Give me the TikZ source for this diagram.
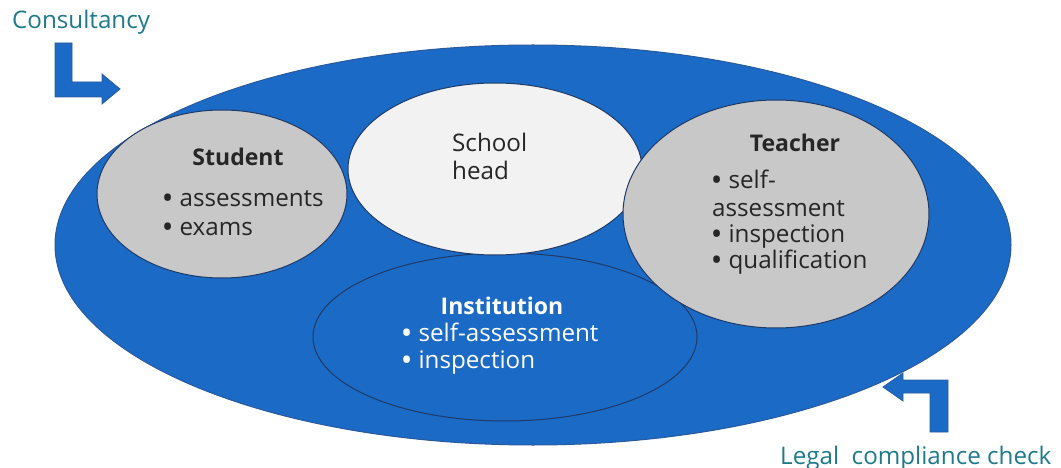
\documentclass[tikz,border=0pt]{standalone}
\usepackage{fontspec}
\setmainfont{Open Sans}
\definecolor{bigblue}{HTML}{1B6AC6}
\definecolor{edgeblue}{HTML}{2A5A9E}
\definecolor{darkedge}{HTML}{1F3A66}
\definecolor{headwhite}{HTML}{F2F2F2}
\definecolor{roundgray}{HTML}{C8C8C8}
\definecolor{txtgray}{HTML}{262626}
\definecolor{tealtxt}{HTML}{1F7A8C}
\newcommand{\bul}{{\bfseries •}\hspace{0.3em}}
\tikzset{
  lbl/.style={anchor=base west, inner sep=0pt, text height=17pt, text depth=5pt,
    font=\fontsize{24.2}{28}\selectfont, text=txtgray},
  head/.style={anchor=base, inner sep=0pt, text height=17pt, text depth=5pt,
    font=\fontsize{23}{27}\selectfont\bfseries, text=txtgray},
  blockarrow/.style={fill=bigblue, draw=edgeblue, line width=0.8pt, line join=miter}
}
\begin{document}
\begin{tikzpicture}[x=1pt, y=-1pt]
    \useasboundingbox (0,0) rectangle (1061,468);
    \fill[white] (0,0) rectangle (1061,468);
    % outer ring
    \filldraw[fill=bigblue, draw=edgeblue, line width=1pt] (533,245) ellipse [x radius=478, y radius=200];
    % institution
    \filldraw[fill=bigblue, draw=darkedge, line width=1pt] (505,337) ellipse [x radius=192, y radius=84];
    % student
    \filldraw[fill=roundgray, draw=darkedge, line width=1pt] (222,194) ellipse [x radius=125, y radius=84];
    % school head
    \filldraw[fill=headwhite, draw=darkedge, line width=1pt] (495,169) ellipse [x radius=147, y radius=86];
    % teacher
    \filldraw[fill=roundgray, draw=darkedge, line width=1pt] (776,214) ellipse [x radius=153, y radius=114];
    % arrows
    \filldraw[blockarrow] (55,43) -- (72,43) -- (72,82) -- (102,82) -- (102,74) -- (120,89)
      -- (102,104) -- (102,97) -- (55,97) -- cycle;
    \filldraw[blockarrow] (948,432) -- (930,432) -- (930,393) -- (903,393) -- (903,401) -- (883,387)
      -- (903,373) -- (903,380) -- (948,380) -- cycle;
    \node (q0) at (12,29) [lbl, text=tealtxt]{Consultancy};
    \node (q1) at (780,464) [lbl, text=tealtxt]{Legal\ \ compliance check};
    \node (q2) at (238,166) [head]{Student};
    \node (q3) at (163,207) [lbl]{\bul assessments};
    \node (q4) at (163,235) [lbl]{\bul exams};
    \node (q5) at (452,152) [lbl]{School};
    \node (q6) at (452,179) [lbl]{head};
    \node (q7) at (795,152) [head]{Teacher};
    \node (q8) at (712,189) [lbl]{\bul self-};
    \node (q9) at (712,216) [lbl]{assessment};
    \node (q10) at (712,242) [lbl]{\bul inspection};
    \node (q11) at (712,269) [lbl]{\bul qualification};
    \node (q12) at (502,314) [head, text=white]{Institution};
    \node (q13) at (402,341) [lbl, text=white]{\bul self-assessment};
    \node (q14) at (402,368) [lbl, text=white]{\bul inspection};
  \end{tikzpicture}
\end{document}
